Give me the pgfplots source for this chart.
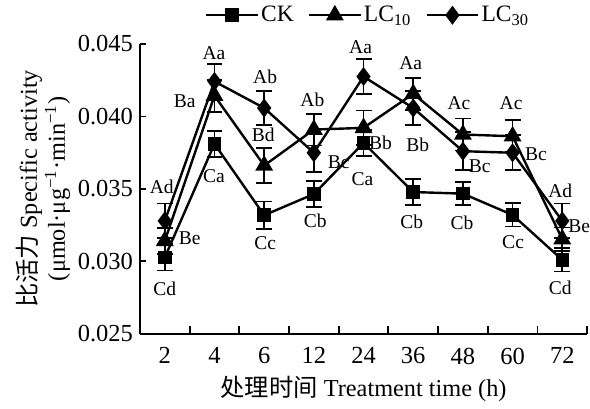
\documentclass[border=0pt]{standalone}
\usepackage{fontspec}
\setmainfont{Liberation Serif}
\newfontfamily\cjk{Noto Sans CJK SC}
\usepackage{pgfplots}
\pgfplotsset{compat=1.18}
\begin{document}
\begin{tikzpicture}
\begin{axis}[
  scale only axis, width=224.5pt, height=145.5pt,
  xmin=-0.5, xmax=8.5, ymin=0.025, ymax=0.045,
  axis x line*=bottom, axis y line*=left,
  axis line style={-, line width=1pt},
  every tick/.style={black, line width=0.9pt},
  tick align=inside,
  xtick={0,...,8}, xticklabels={2,4,6,12,24,36,48,60,72},
  major x tick style={draw=none},
  minor xtick={0.5,1.5,...,8.5}, minor tick length=4pt,
  ytick={0.025,0.030,...,0.045}, major tick length=3pt,
  scaled y ticks=false,
  yticklabel style={/pgf/number format/.cd, fixed, fixed zerofill, precision=3, assume math mode=true},
  ticklabel style={font=\fontsize{12.3}{14}\selectfont},
  xticklabel style={yshift=-3.5pt},
  label style={font=\fontsize{12.2}{14}\selectfont},
  xlabel={{\cjk 处理时间} Treatment time (h)},
  ylabel={{\cjk 比活力} Specific activity\\(μmol·μg\textsuperscript{−1}·min\textsuperscript{−1})},
  ylabel style={align=center, yshift=-3pt},
  xlabel style={yshift=1pt},
  clip=false,
  legend columns=3,
  legend style={at={(0.51,1.045)}, anchor=south, draw=none, fill=none,
    font=\fontsize{11.8}{13}\selectfont, column sep=0pt,
    nodes={inner sep=1pt},
    /tikz/every even column/.append style={column sep=6pt}},
  legend image code/.code={
    \draw[#1, mark repeat=2, mark phase=2] plot coordinates {(0pt,0pt) (13pt,0pt) (26pt,0pt)};},
  error bars/y dir=both, error bars/y explicit,
  error bars/error bar style={line width=0.9pt, black},
  error bars/error mark options={rotate=90, mark size=4pt, line width=0.9pt, black},
]
\addplot[black, line width=1.2pt, mark=square*, mark size=2.8pt, mark options={solid}]
  table[x=x, y=y, y error=e] {
x y e
0 0.03027 0.0009
1 0.0381 0.0009
2 0.03318 0.00095
3 0.03464 0.0009
4 0.03817 0.0009
5 0.03478 0.0009
6 0.03467 0.0008
7 0.0332 0.0008
8 0.0301 0.0008
};
\addlegendentry{CK}
\addplot[black, line width=1.2pt, mark=triangle*, mark size=4pt, mark options={solid}]
  table[x=x, y=y, y error=e] {
x y e
0 0.03141 0.0009
1 0.04143 0.0011
2 0.03661 0.0012
3 0.03909 0.0011
4 0.03921 0.0012
5 0.04156 0.0011
6 0.03875 0.0011
7 0.03863 0.0011
8 0.03153 0.0008
};
\addlegendentry{LC\textsubscript{10}}
\addplot[black, line width=1.2pt, mark=diamond*, mark size=3.8pt, mark options={solid}]
  table[x=x, y=y, y error=e] {
x y e
0 0.03279 0.0012
1 0.04241 0.0012
2 0.04058 0.0012
3 0.03749 0.0013
4 0.04275 0.0012
5 0.04058 0.0012
6 0.0376 0.0013
7 0.03749 0.0012
8 0.03279 0.0012
};
\addlegendentry{LC\textsubscript{30}}
\begin{scope}[every node/.style={font=\fontsize{9.8}{11}\selectfont, inner sep=0pt}]
\node at (axis cs:-0.06,0.03517) {Ad};
\node at (axis cs:0.50,0.03160) {Be};
\node at (axis cs:0,0.02809) {Cd};
\node at (axis cs:0.99,0.04438) {Aa};
\node at (axis cs:0.40,0.04108) {Ba};
\node at (axis cs:0.99,0.03586) {Ca};
\node at (axis cs:2.02,0.04273) {Ab};
\node at (axis cs:1.98,0.03875) {Bd};
\node at (axis cs:2.02,0.03125) {Cc};
\node at (axis cs:2.97,0.04115) {Ab};
\node at (axis cs:3.50,0.03682) {Bc};
\node at (axis cs:3.03,0.03277) {Cb};
\node at (axis cs:3.94,0.04479) {Aa};
\node at (axis cs:4.34,0.03820) {Bb};
\node at (axis cs:3.98,0.03565) {Ca};
\node at (axis cs:4.95,0.04369) {Aa};
\node at (axis cs:5.09,0.03806) {Bb};
\node at (axis cs:4.97,0.03270) {Cb};
\node at (axis cs:5.92,0.04088) {Ac};
\node at (axis cs:6.34,0.03655) {Bc};
\node at (axis cs:5.98,0.03263) {Cb};
\node at (axis cs:6.97,0.04088) {Ac};
\node at (axis cs:7.47,0.03737) {Bc};
\node at (axis cs:7.01,0.03132) {Cc};
\node at (axis cs:7.96,0.03483) {Ad};
\node at (axis cs:8.34,0.03242) {Be};
\node at (axis cs:7.96,0.02816) {Cd};
\end{scope}
\end{axis}
\path ([xshift=-5pt]current axis.outer west);
\end{tikzpicture}
\end{document}
